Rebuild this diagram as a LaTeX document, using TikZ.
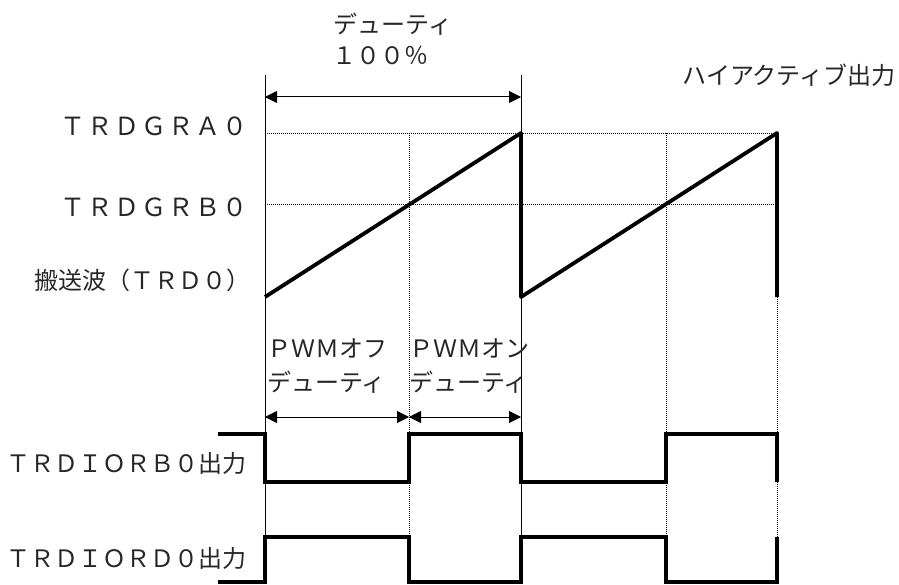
\documentclass[tikz,border=0pt]{standalone}
\usepackage{fontspec}
\newfontfamily\jp{Noto Sans CJK JP}
\usetikzlibrary{arrows.meta}
\begin{document}
\begin{tikzpicture}[x=1pt,y=-1pt,
  lbl/.style={font=\jp\fontsize{24}{28}\selectfont, inner sep=0pt, text=black!85},
  reg/.style={lbl, font=\jp\fontsize{25}{28}\selectfont\addfontfeatures{LetterSpace=8}},
  wave/.style={line width=3.8pt, line join=miter, line cap=butt},
  saw/.style={line width=3.8pt, line join=round, line cap=butt},
  guide/.style={line width=0.8pt},
  dots/.style={line width=0.9pt, dash pattern=on 1pt off 1pt},
  dim/.style={line width=1pt, {Triangle[length=12pt,width=12pt]}-{Triangle[length=12pt,width=12pt]}}]
\useasboundingbox (0,0) rectangle (899,585);
% grid coordinates
\coordinate (a0) at (265,75);  \coordinate (a1) at (265,584);
\coordinate (c0) at (521,75);  \coordinate (c1) at (521,584);
\coordinate (ga) at (265,133); \coordinate (gae) at (777,133);
\coordinate (gb) at (265,204); \coordinate (gbe) at (775,204);
\coordinate (b0) at (409,133); \coordinate (b1) at (409,537);
\coordinate (d0) at (666,133); \coordinate (d1) at (666,537);
\coordinate (e0) at (777,297); \coordinate (e1) at (777,434);
\coordinate (e2) at (777,482); \coordinate (e3) at (777,537);
% thin solid guides
\draw[guide] (a0) -- (a1);
\draw[guide] (c0) -- (c1);
% dotted guides
\draw[dots] (ga) -- (gae);
\draw[dots] (gb) -- (gbe);
\draw[dots] (b0) -- (b1);
\draw[dots] (d0) -- (d1);
\draw[dots] (e0) -- (e1);
\draw[dots] (e2) -- (e3);
% sawtooth carrier
\coordinate (s0) at (265,297); \coordinate (s1) at (521,133);
\coordinate (s2) at (521,297); \coordinate (s3) at (777,133);
\coordinate (s4) at (777,297);
\draw[saw] (s0) -- (s1) -- (s2) -- (s3) -- (s4);
% TRDIORB0 output
\draw[wave] (218,434) -- (265,434) -- (265,482) -- (409,482) -- (409,434) -- (521,434)
  -- (521,482) -- (666,482) -- (666,434) -- (777,434) -- (777,482);
% TRDIORD0 output
\draw[wave] (218,582) -- (265,582) -- (265,537) -- (409,537) -- (409,582) -- (521,582)
  -- (521,537) -- (666,537) -- (666,582) -- (777,582) -- (777,537);
% dimension arrows
\coordinate (t0) at (265,97); \coordinate (t1) at (521,97);
\draw[dim] (t0) -- (t1);
\coordinate (p0) at (265,417); \coordinate (p1) at (409,417); \coordinate (p2) at (521,417);
\draw[dim] (p0) -- (p1);
\draw[dim] (p1) -- (p2);
% labels
\node[lbl] (duty) at (393,24) {デューティ};
\node[lbl] (pct) at (380,56) {１００％};
\node[lbl] (hi) at (789,75) {ハイアクティブ出力};
\node[reg, anchor=east] (gra) at (248,126) {ＴＲＤＧＲＡ０};
\node[reg, anchor=east] (grb) at (248,207) {ＴＲＤＧＲＢ０};
\node[lbl, anchor=east] (car) at (251,280) {搬送波（ＴＲＤ０）};
\node[lbl, anchor=east] (ob) at (247,463) {ＴＲＤＩＯＲＢ０出力};
\node[lbl, anchor=east] (od) at (247,558) {ＴＲＤＩＯＲＤ０出力};
\node[lbl, anchor=west] (off1) at (267,348) {ＰＷＭオフ};
\node[lbl, anchor=west] (off2) at (267,382) {デューティ};
\node[lbl, anchor=west] (on1) at (409,348) {ＰＷＭオン};
\node[lbl, anchor=west] (on2) at (409,382) {デューティ};
\end{tikzpicture}
\end{document}
